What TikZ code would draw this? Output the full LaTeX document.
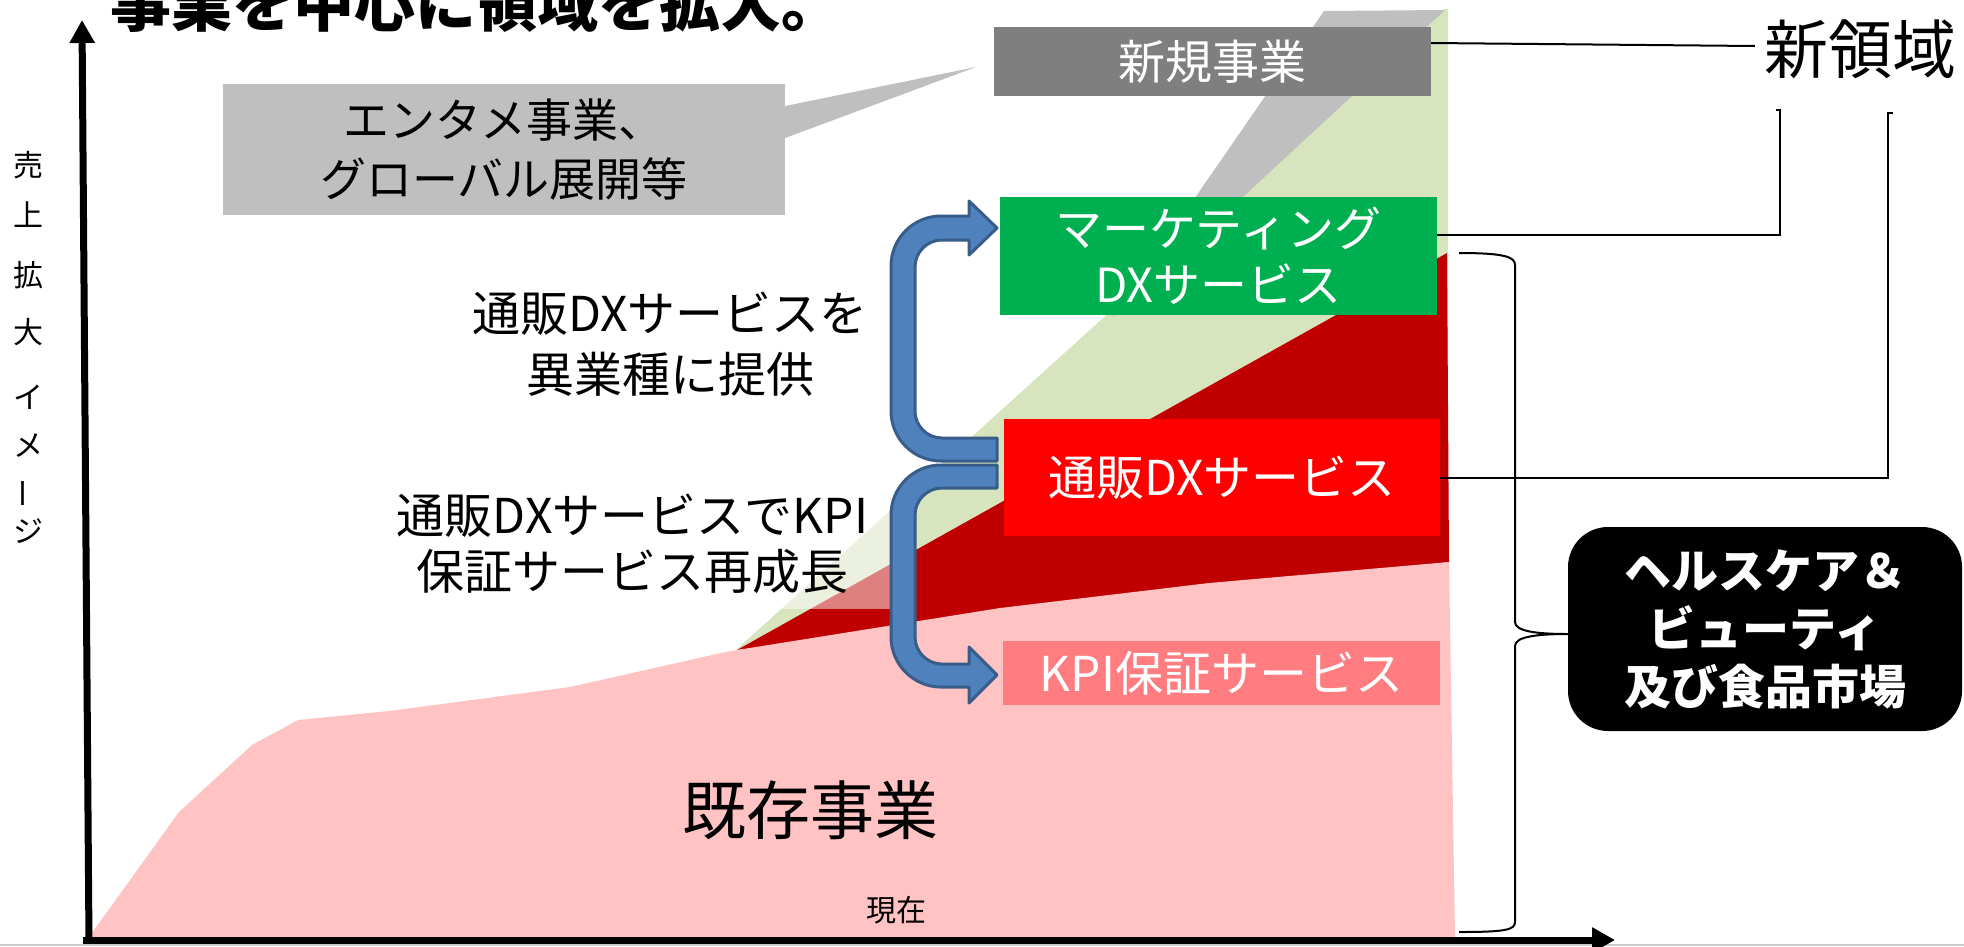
\documentclass[tikz,border=0pt]{standalone}
\usepackage{fontspec}
\setmainfont{Noto Sans CJK JP}
\usetikzlibrary{arrows.meta}
\definecolor{pinkA}{HTML}{FFC3C3}
\definecolor{redA}{HTML}{C00000}
\definecolor{greenA}{HTML}{D7E4BD}
\definecolor{grayA}{HTML}{BFBFBF}
\definecolor{grayB}{HTML}{7F7F7F}
\definecolor{greenB}{HTML}{00B050}
\definecolor{redB}{HTML}{FF0000}
\definecolor{pinkB}{HTML}{FF7C80}
\definecolor{arrowfill}{HTML}{4F81BD}
\definecolor{arrowline}{HTML}{385D8A}
\begin{document}
\begin{tikzpicture}[x=1pt,y=-1pt,
  lbl/.style={inner sep=0pt, align=center},
  fbox/.style={inner sep=0pt, align=center, text=white},
  conn/.style={draw=black, line width=2pt},
  axisline/.style={line width=7pt, -{Triangle[length=23pt,width=24pt]}},
  barrow/.style={fill=arrowfill, draw=arrowline, line width=3pt, line join=round},
  vch/.style={inner sep=0pt, font=\fontsize{30}{34}\selectfont}
]
\useasboundingbox (0,0) rectangle (1964,946);
\fill[white] (0,0) rectangle (1964,946);

% stacked areas
\fill[greenA] (737,649) -- (1445,9) -- (1448,9) -- (1448,562) -- cycle;
\fill[redA] (737,650) -- (1447,253) -- (1449,562) -- cycle;
\fill[pinkA] (89,937) -- (179,812) -- (252,745) -- (298,720) -- (389,711) -- (570,687) -- (721,653) -- (737,650) -- (1000,608) -- (1209,583) -- (1449,562) -- (1455,937) -- cycle;
\fill[grayA] (1324,11) -- (1445,10) -- (1112,318) -- cycle;

% callout
\node[fbox, text=black, fill=grayA, minimum width=562pt, minimum height=131pt,
      font=\fontsize{46}{59}\selectfont] (callout) at (504,149.5) {エンタメ事業、\\グローバル展開等};
\coordinate (ctip) at (976,67);
\fill[grayA] ([yshift=43.5pt]callout.east) -- (ctip) -- ([yshift=11.5pt]callout.east) -- cycle;

% boxes
\node[fbox, fill=grayB, minimum width=437pt, minimum height=69pt,
      font=\fontsize{47}{56}\selectfont] (shinki) at (1212.5,61.5) {新規事業};
\node[fbox, fill=greenB, minimum width=437pt, minimum height=118pt,
      font=\fontsize{47}{56}\selectfont] (mkt) at (1218.5,256) {マーケティング\\DXサービス};
\node[fbox, fill=redB, minimum width=436pt, minimum height=117pt,
      font=\fontsize{48}{58}\selectfont] (tsuhan) at (1222,477.5) {通販DXサービス};
\node[fbox, fill=pinkB, minimum width=437pt, minimum height=64pt,
      font=\fontsize{48}{58}\selectfont] (kpi) at (1221.5,673) {KPI保証サービス};

% side texts
\node[lbl, font=\fontsize{48}{61}\selectfont] (t1) at (670,344.5) {通販DXサービスを\\異業種に提供};
\node[lbl, fill=white, fill opacity=0.5, text opacity=1, minimum width=521pt, minimum height=131pt,
      font=\fontsize{48}{56}\selectfont] (t2) at (632.5,543.5) {通販DXサービスでKPI\\保証サービス再成長};

% blue u-turn arrows
\path[barrow] (997,438) -- (942,438) .. controls (927.1,438) and (915,425.9) .. (915,411)
  -- (915,267) .. controls (915,252.1) and (927.1,240) .. (942,240)
  -- (969,240) -- (969,255) -- (997,228) -- (969,201) -- (969,216)
  -- (941,216) .. controls (913.4,216) and (891,238.4) .. (891,266)
  -- (891,411) .. controls (891,438.6) and (913.4,461) .. (941,461)
  -- (997,461) -- cycle;
\path[barrow] (997,488) -- (942,488) .. controls (927.1,488) and (915,500.1) .. (915,515)
  -- (915,637) .. controls (915,651.9) and (927.1,664) .. (942,664)
  -- (969,664) -- (969,647) -- (997,675) -- (969,703) -- (969,687)
  -- (941,687) .. controls (913.4,687) and (891,664.4) .. (891,637)
  -- (891,515) .. controls (891,487.4) and (913.4,465) .. (941,465)
  -- (997,465) -- cycle;

% area labels
\node[lbl, font=\fontsize{64}{70}\selectfont] (kizon) at (810,810) {既存事業};
\node[lbl, font=\fontsize{30}{34}\selectfont] (genzai) at (896,910) {現在};

% slide bottom edge
\draw[color=black!20, line width=1.5pt] (0,945) -- (1964,945);

% axes
\coordinate (yo) at (89,943);
\coordinate (yt) at (82,20);
\coordinate (xo) at (83,940);
\coordinate (xt) at (1615,940);
\draw[axisline] (yo) -- (yt);
\draw[axisline] (xo) -- (xt);

% vertical axis label
\node[vch] (v1) at (28,165) {売};
\node[vch] (v2) at (28,215) {上};
\node[vch] (v3) at (28,275) {拡};
\node[vch] (v4) at (28,332) {大};
\node[vch] (v5) at (28,397) {イ};
\node[vch] (v6) at (28,446) {メ};
\node[vch, rotate=90] (v7) at (28,493) {ー};
\node[vch] (v8) at (28,531) {ジ};

% title
\node[lbl, anchor=base west, font=\bfseries\fontsize{61}{70}\selectfont] (title) at (110,26) {事業を中心に領域を拡大。};

% new domain label and connectors
\node[lbl, font=\fontsize{64}{70}\selectfont] (shinryo) at (1860,49) {新領域};
\draw[conn] ([yshift=18.5pt]shinki.east) -- ([xshift=-9pt,yshift=3pt]shinryo.west);
\coordinate (k1) at (1780,110);
\coordinate (k2) at (1888,113);
\draw[conn] ([yshift=21pt]mkt.east) -| (k1) -- ++(-4,0);
\draw[conn] (tsuhan.east) -| (k2) -- ++(5,0);

% market box and brace
\node[fbox, fill=black, rounded corners=40pt, minimum width=394pt, minimum height=204pt,
      font=\bfseries\fontsize{47}{58}\selectfont] (hb) at (1765,629) {ヘルスケア＆\\ビューティ\\及び食品市場};
\coordinate (btip) at (1568,634);
\draw[conn] (1459,253) .. controls (1505,253) and (1515,257) .. (1515,265) -- (1515,622)
  .. controls (1515,631) and (1535,634) .. (btip)
  .. controls (1535,634) and (1515,637) .. (1515,646) -- (1515,922)
  .. controls (1515,930) and (1505,932) .. (1459,932);
\end{tikzpicture}
\end{document}
